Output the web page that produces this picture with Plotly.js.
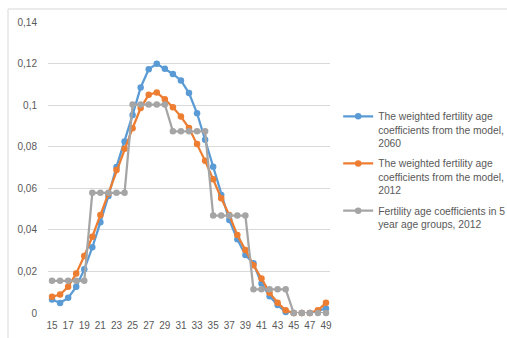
<!DOCTYPE html>
<html>
<head>
<meta charset="utf-8">
<script src="https://cdn.plot.ly/plotly-3.0.1.min.js"></script>
<style>
  html, body { margin: 0; padding: 0; background: #fff; }
  #chart { width: 507px; height: 338px; }
</style>
</head>
<body>
<div id="chart"></div>
<script>
// Age in years
const ages = [15,16,17,18,19,20,21,22,23,24,25,26,27,28,29,30,31,32,33,34,35,36,37,38,39,40,41,42,43,44,45,46,47,48,49];

// Weighted fertility age coefficients from the model, 2060
const model2060 = [0.0065,0.0048,0.0073,0.0126,0.0210,0.0316,0.0436,0.0563,0.0703,0.0825,0.0953,0.1085,0.1173,0.1199,0.1175,0.1150,0.1119,0.1058,0.0961,0.0833,0.0704,0.0568,0.0447,0.0355,0.0279,0.0239,0.0142,0.0081,0.0038,0.0005,0.0000,0.0000,0.0000,0.0010,0.0022];

// Weighted fertility age coefficients from the model, 2012
const model2012 = [0.0078,0.0089,0.0126,0.0190,0.0274,0.0367,0.0471,0.0575,0.0688,0.0790,0.0889,0.0986,0.1050,0.1061,0.1028,0.0990,0.0945,0.0890,0.0813,0.0732,0.0643,0.0552,0.0471,0.0375,0.0303,0.0230,0.0166,0.0097,0.0049,0.0013,0.0000,0.0000,0.0000,0.0013,0.0049];

// Fertility age coefficients in 5 year age groups, 2012
const groups2012 = [0.0155,0.0155,0.0155,0.0155,0.0155,0.0578,0.0578,0.0578,0.0578,0.0578,0.1003,0.1003,0.1003,0.1003,0.1003,0.0874,0.0874,0.0874,0.0874,0.0874,0.0469,0.0469,0.0469,0.0469,0.0469,0.0114,0.0114,0.0114,0.0114,0.0114,0.0000,0.0000,0.0000,0.0000,0.0000];

const seriesNames = [
  'The weighted fertility age<br>coefficients from the model,<br>2060',
  'The weighted fertility age<br>coefficients from the model,<br>2012',
  'Fertility age coefficients in 5<br>year age groups, 2012'
];

const xTicks = [15,17,19,21,23,25,27,29,31,33,35,37,39,41,43,45,47,49];
const yTicks = [0,0.02,0.04,0.06,0.08,0.1,0.12,0.14];
const yTickText = ['0','0,02','0,04','0,06','0,08','0,1','0,12','0,14'];

const colors = ['#5B9BD5', '#ED7D31', '#A5A5A5'];
const values = [model2060, model2012, groups2012];

const traces = values.map((v, i) => ({
  x: ages,
  y: v,
  name: seriesNames[i],
  legendgroup: 'series' + i,
  type: 'scatter',
  mode: 'lines+markers',
  line: { color: colors[i], width: 2.25 },
  marker: { color: colors[i], size: 6.5 },
  cliponaxis: false
}));

const frameColor = '#D9D9D9';
const textFont = 'Liberation Sans, Arial, sans-serif';

const layout = {
  width: 507,
  height: 338,
  margin: { l: 48, r: 177, t: 22, b: 25 },
  paper_bgcolor: '#fff',
  plot_bgcolor: '#fff',
  font: { family: textFont, color: '#595959', size: 10 },
  showlegend: true,
  legend: {
    xref: 'container', yref: 'container',
    x: 0.667, xanchor: 'left',
    y: 0.695, yanchor: 'top',
    valign: 'top',
    traceorder: 'grouped',
    tracegroupgap: 4,
    font: { family: textFont, size: 10.3, color: '#595959' },
    bgcolor: 'rgba(0,0,0,0)'
  },
  xaxis: {
    range: [14.5, 49.5],
    tickmode: 'array',
    tickvals: xTicks,
    showgrid: false,
    zeroline: false,
    showline: false,
    ticks: '',
    ticklabelstandoff: 5,
    tickfont: { family: textFont, size: 10, color: '#595959' }
  },
  yaxis: {
    range: [0, 0.14],
    tickmode: 'array',
    tickvals: yTicks,
    ticktext: yTickText,
    showgrid: true,
    gridcolor: frameColor,
    gridwidth: 1,
    zeroline: false,
    showline: false,
    ticks: '',
    ticklabelstandoff: 10,
    tickfont: { family: textFont, size: 10, color: '#595959' }
  },
  shapes: [
    { type: 'line', xref: 'paper', yref: 'paper', x0: -0.1418, x1: 2, y0: 1.0447, y1: 1.0447, line: { color: frameColor, width: 1 } },
    { type: 'line', xref: 'paper', yref: 'paper', x0: -0.1418, x1: -0.1418, y0: -0.5, y1: 1.0447, line: { color: frameColor, width: 1 } }
  ]
};

Plotly.newPlot('chart', traces, layout, { displayModeBar: false, staticPlot: true });
</script>
</body>
</html>
